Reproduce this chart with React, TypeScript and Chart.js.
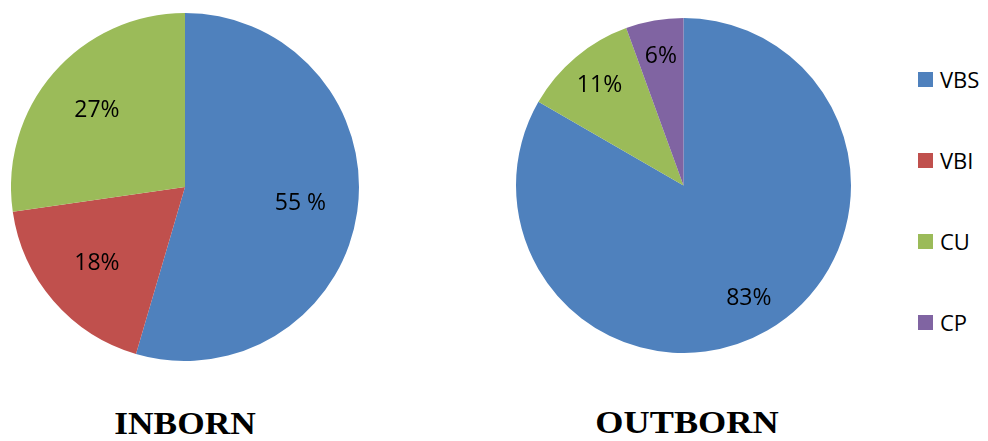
import React, { useEffect, useRef } from "react";
import { Chart, registerables } from "chart.js";

Chart.register(...registerables);

const categories = ["VBS", "VBI", "CU", "CP"];
const colors = ["#4F81BD", "#C0504D", "#9BBB59", "#8064A2"];

// estimated counts behind the shown percentages
const inbornValues = [6, 2, 3, 0];
const inbornLabels = ["55 %", "18%", "27%", ""];
const outbornValues = [15, 0, 2, 1];
const outbornLabels = ["83%", "", "11%", "6%"];

const titles = ["INBORN", "OUTBORN"];

const labelFont = "'Open Sans', 'DejaVu Sans', sans-serif";

function makeLabelPlugin(texts: string[], frac: number) {
  return {
    id: "sliceLabels",
    afterDatasetsDraw(chart: any) {
      const ctx = chart.ctx;
      const meta = chart.getDatasetMeta(0);
      ctx.save();
      ctx.fillStyle = "#000";
      ctx.font = `23px ${labelFont}`;
      ctx.textAlign = "center";
      ctx.textBaseline = "middle";
      meta.data.forEach((arc: any, i: number) => {
        const t = texts[i];
        if (!t) return;
        const p = arc.getProps(["x", "y", "startAngle", "endAngle", "outerRadius"], true);
        if (p.endAngle - p.startAngle <= 0) return;
        const mid = (p.startAngle + p.endAngle) / 2;
        const r = p.outerRadius * frac;
        ctx.fillText(t, p.x + Math.cos(mid) * r, p.y + Math.sin(mid) * r);
      });
      ctx.restore();
    },
  };
}

function PieChart(props: { values: number[]; texts: string[]; frac: number; style: React.CSSProperties }) {
  const ref = useRef<HTMLCanvasElement | null>(null);
  useEffect(() => {
    if (!ref.current) return;
    const chart = new Chart(ref.current, {
      type: "pie",
      data: {
        labels: categories,
        datasets: [
          {
            data: props.values,
            backgroundColor: colors,
            borderWidth: 0,
            hoverOffset: 0,
          },
        ],
      },
      options: {
        animation: false,
        responsive: false,
        maintainAspectRatio: false,
        layout: { padding: 0 },
        plugins: { legend: { display: false }, tooltip: { enabled: false } },
      },
      plugins: [makeLabelPlugin(props.texts, props.frac)],
    });
    return () => chart.destroy();
  }, []);
  const w = props.style.width as number;
  const h = props.style.height as number;
  return <canvas ref={ref} width={w} height={h} style={{ position: "absolute", ...props.style }} />;
}

export default function App() {
  useEffect(() => {
    document.body.style.margin = "0";
  }, []);
  const titleStyle: React.CSSProperties = {
    position: "absolute",
    fontFamily: "'Liberation Serif', 'DejaVu Serif', serif",
    fontWeight: "bold",
    fontSize: 31,
    lineHeight: "31px",
    whiteSpace: "nowrap",
    color: "#000",
  };
  return (
    <div style={{ position: "fixed", left: 0, top: 0, width: 988, height: 441, background: "#fff", overflow: "hidden" }}>
      <PieChart values={inbornValues} texts={inbornLabels} frac={0.67} style={{ left: 11, top: 13, width: 348, height: 348 }} />
      <PieChart values={outbornValues} texts={outbornLabels} frac={0.78} style={{ left: 516, top: 18, width: 335, height: 335 }} />
      <div style={{ ...titleStyle, left: 185, top: 408, transform: "translateX(-50%) scaleX(1.14)" }}>{titles[0]}</div>
      <div style={{ ...titleStyle, left: 687, top: 407, transform: "translateX(-50%) scaleX(1.17)" }}>{titles[1]}</div>
      {categories.map((c, i) => (
        <div
          key={c}
          style={{
            position: "absolute",
            left: 918,
            top: 79 + i * 81 - 14,
            height: 28,
            display: "flex",
            alignItems: "center",
            fontFamily: labelFont,
            fontSize: 22,
            color: "#000",
          }}
        >
          <span style={{ display: "inline-block", width: 15, height: 15, background: colors[i], marginRight: 7 }} />
          <span>{c}</span>
        </div>
      ))}
    </div>
  );
}
